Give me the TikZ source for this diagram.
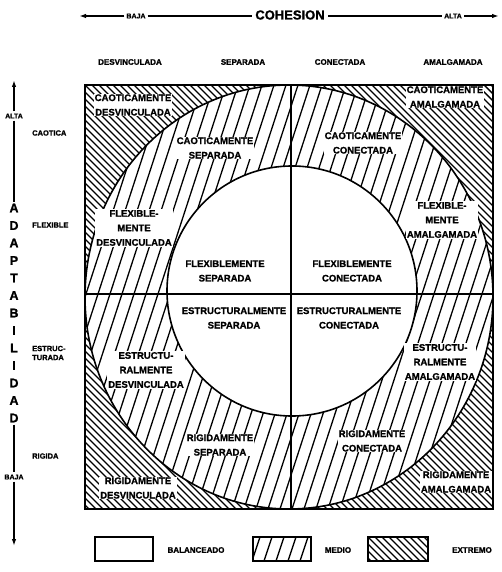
\documentclass[tikz,border=0pt]{standalone}
\usepackage{fontspec}
\setmainfont{Liberation Sans}[BoldFeatures={FakeBold=1.2}]
\usetikzlibrary{arrows.meta}
\begin{document}
\begin{tikzpicture}[x=1pt,y=-1pt,
  lab/.style={font=\bfseries\fontsize{9.5}{14.5}\selectfont, align=center, inner sep=0.8pt, fill=white},
  col/.style={font=\bfseries\fontsize{8}{9}\selectfont, inner sep=1pt},
  side/.style={font=\bfseries\fontsize{7.5}{9}\selectfont, inner sep=1pt, anchor=west, align=left},
  axs/.style={font=\bfseries\fontsize{7}{8}\selectfont, inner sep=2pt},
  axbig/.style={font=\bfseries\fontsize{13}{15}\selectfont, inner sep=3pt},
  leg/.style={font=\bfseries\fontsize{8}{9}\selectfont, inner sep=1pt},
  medio/.style={line width=1.3pt},
  extremo/.style={line width=1.4pt},
  outline/.style={line width=1.6pt},
  axis/.style={line width=1.4pt},
  tip/.style={-{Latex[length=7pt,width=4.5pt]}}
]
\useasboundingbox (0,0) rectangle (502,572);

% extremo hatch in the square
\begin{scope}
  \clip (85,85) rectangle (493,509);
  \foreach \x in {-440,-433,...,500} \draw[extremo] (\x,85) -- ++(424,424);
\end{scope}
% medio region
\fill[white] (289,297) ellipse [x radius=204pt, y radius=212pt];
\begin{scope}
  \clip (289,297) ellipse [x radius=204pt, y radius=212pt];
  \foreach \x in {-80,-68,...,500} \draw[medio] (\x,509) -- ++(138,-424);
\end{scope}
% balanceado
\fill[white] (292,291) circle [radius=125pt];

% outlines
\draw[outline] (289,297) ellipse [x radius=204pt, y radius=212pt];
\draw[outline] (292,291) circle [radius=125pt];
\coordinate (vt) at (291,85); \coordinate (vb) at (291,509);
\coordinate (hl) at (85,294); \coordinate (hr) at (493,294);
\draw[line width=1.3pt] (vt) -- (vb);
\draw[line width=1.3pt] (hl) -- (hr);
\draw[line width=2.2pt] (85,85) rectangle (493,509);

% region labels
\node[lab] (cd) at (133,105) {CAOTICAMENTE\\DESVINCULADA};
\node[lab] (cs) at (215,148) {CAOTICAMENTE\\SEPARADA};
\node[lab] (cc) at (363,143) {CAOTICAMENTE\\CONECTADA};
\node[lab] (ca) at (445,97) {CAOTICAMENTE\\AMALGAMADA};
\node[lab] (fd) at (134,228) {FLEXIBLE-\\MENTE\\DESVINCULADA};
\node[lab] (fs) at (225,271) {FLEXIBLEMENTE\\SEPARADA};
\node[lab] (fc) at (352,271) {FLEXIBLEMENTE\\CONECTADA};
\node[lab] (fa) at (442,220) {FLEXIBLE-\\MENTE\\AMALGAMADA};
\node[lab] (ed) at (146,370) {ESTRUCTU-\\RALMENTE\\DESVINCULADA};
\node[lab] (es) at (234,318) {ESTRUCTURALMENTE\\SEPARADA};
\node[lab] (ec) at (349,318) {ESTRUCTURALMENTE\\CONECTADA};
\node[lab] (ea) at (440,362) {ESTRUCTU-\\RALMENTE\\AMALGAMADA};
\node[lab] (rs) at (220,445) {RIGIDAMENTE\\SEPARADA};
\node[lab] (rc) at (372,441) {RIGIDAMENTE\\CONECTADA};
\node[lab] (rd) at (138,488) {RIGIDAMENTE\\DESVINCULADA};
\node[lab] (ra) at (456,482) {RIGIDAMENTE\\AMALGAMADA};

% column labels
\node[col] (c1) at (130,62) {DESVINCULADA};
\node[col] (c2) at (243,62) {SEPARADA};
\node[col] (c3) at (340,62) {CONECTADA};
\node[col] (c4) at (453,62) {AMALGAMADA};

% top axis
\coordinate (tL) at (79,16); \coordinate (tR) at (499,16);
\node[axs] (tb) at (136,16) {BAJA};
\node[axbig] (coh) at (290,15) {COHESION};
\node[axs] (ta) at (453,16) {ALTA};
\draw[axis,tip] (tb.west) -- (tL);
\draw[axis] (tb.east) -- (tb.east -| coh.west);
\draw[axis] (ta.west) -- (ta.west -| coh.east);
\draw[axis,tip] (ta.east) -- (tR);

% left axis
\coordinate (lT) at (14,80); \coordinate (lB) at (14,546);
\node[axs] (la) at (14,116) {ALTA};
\node[font=\bfseries\fontsize{12.5}{17.5}\selectfont, align=center, inner sep=2pt] (adap) at (14,313)
  {A\\D\\A\\P\\T\\A\\B\\I\\L\\I\\D\\A\\D};
\node[axs] (lb) at (14,477) {BAJA};
\draw[axis,tip] (la.north) -- (lT);
\draw[axis] (la.south) -- (adap.north);
\draw[axis] (adap.south) -- (lb.north);
\draw[axis,tip] (lb.south) -- (lB);

% side labels
\node[side] (s1) at (31,133) {CAOTICA};
\node[side] (s2) at (31,225) {FLEXIBLE};
\node[side,font=\bfseries\fontsize{7.5}{9}\selectfont] (s3) at (31,353) {ESTRUC-\\TURADA};
\node[side] (s4) at (31,456) {RIGIDA};

% legend
\draw[line width=1.3pt] (95,537) rectangle (153,561);
\node[leg] (l1) at (196,550) {BALANCEADO};
\begin{scope}
  \clip (253,537) rectangle (311,561);
  \foreach \x in {240,252,...,320} \draw[medio] (\x,561) -- ++(8,-24);
\end{scope}
\draw[line width=1.3pt] (253,537) rectangle (311,561);
\node[leg] (l2) at (338,550) {MEDIO};
\begin{scope}
  \clip (368,537) rectangle (428,561);
  \foreach \x in {340,347,...,430} \draw[extremo] (\x,537) -- ++(24,24);
\end{scope}
\draw[line width=1.3pt] (368,537) rectangle (428,561);
\node[leg] (l3) at (472,550) {EXTREMO};
\end{tikzpicture}
\end{document}
